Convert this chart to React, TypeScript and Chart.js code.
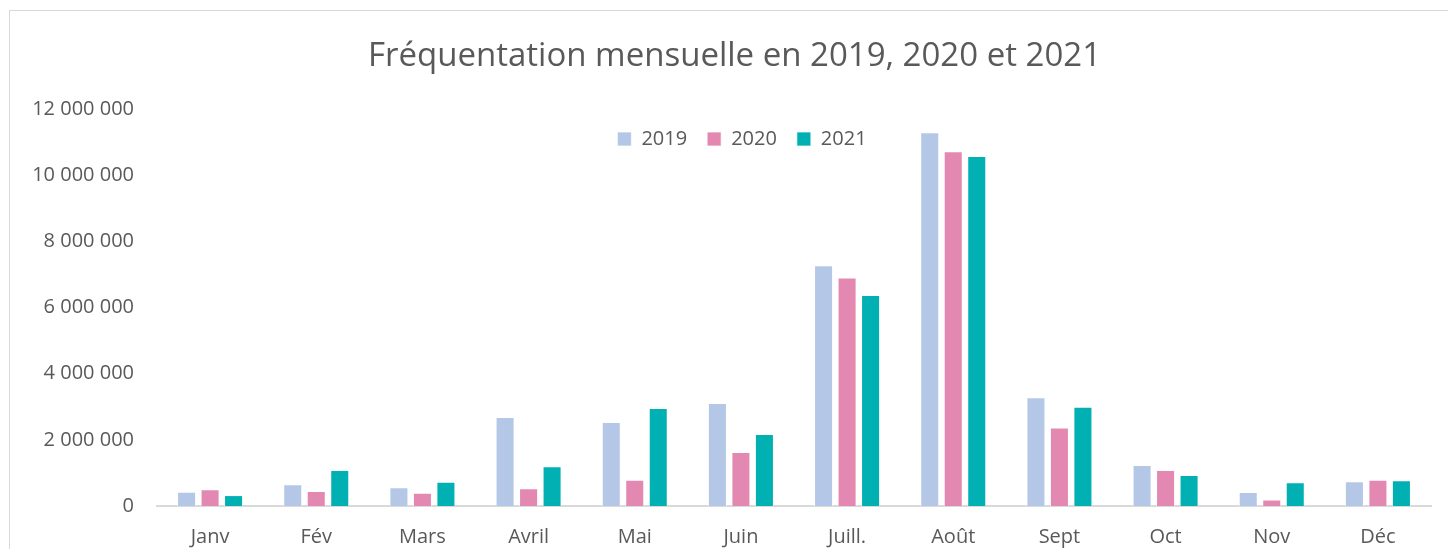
import React, { useEffect, useRef } from "react";
import { Chart, registerables } from "chart.js";

Chart.register(...registerables);

const months = ["Janv", "Fév", "Mars", "Avril", "Mai", "Juin", "Juill.", "Août", "Sept", "Oct", "Nov", "Déc"];
const series2019 = [430000, 660000, 570000, 2690000, 2540000, 3110000, 7280000, 11300000, 3290000, 1240000, 420000, 750000];
const series2020 = [510000, 450000, 400000, 540000, 790000, 1630000, 6910000, 10720000, 2370000, 1090000, 200000, 790000];
const series2021 = [330000, 1090000, 730000, 1200000, 2960000, 2180000, 6380000, 10580000, 3000000, 940000, 720000, 780000];
const seriesLabels = ["2019", "2020", "2021"];
const yTicks = [0, 2000000, 4000000, 6000000, 8000000, 10000000, 12000000];

const COLORS = ["#B4C7E7", "#E389B1", "#00B0B3"];
const TEXT = "#595959";
const FONT = "'Open Sans', 'Noto Sans', sans-serif";

function fmt(v: number): string {
  return Math.round(v).toString().replace(/\B(?=(\d{3})+(?!\d))/g, " ");
}

const placePlugin = {
  id: "placeBoxes",
  afterLayout(chart: any) {
    const t = chart.titleBlock;
    if (t) {
      const h = t.height;
      t.top = 37;
      t.bottom = t.top + h;
      t.left = 37;
      t.right = 1432;
    }
    const l = chart.legend;
    if (l) {
      const h = l.height;
      const w = l.width;
      l.top = 109;
      l.bottom = l.top + h;
      l.left = 27 + 13;
      l.right = l.left + w;
    }
  },
};

export default function App() {
  const ref = useRef<HTMLCanvasElement | null>(null);

  useEffect(() => {
    if (!ref.current) return;
    const values = [series2019, series2020, series2021];
    const chart = new Chart(ref.current, {
      type: "bar",
      data: {
        labels: months,
        datasets: seriesLabels.map((s, i) => ({
          label: s,
          data: values[i],
          backgroundColor: COLORS[i],
          borderColor: "rgba(255,255,255,0.7)",
          borderWidth: 1,
          categoryPercentage: 0.664,
          barPercentage: 0.81,
        })),
      },
      options: {
        animation: false,
        responsive: false,
        maintainAspectRatio: false,
        layout: { padding: { left: 27, right: 17, top: 0, bottom: 0 } },
        plugins: {
          title: {
            display: true,
            text: "Fréquentation mensuelle en 2019, 2020 et 2021",
            color: TEXT,
            font: { family: FONT, size: 33, weight: "normal", lineHeight: 1.2 },
            padding: { top: 0, bottom: 19.4 },
          },
          legend: {
            display: true,
            position: "top",
            labels: {
              color: TEXT,
              font: { family: FONT, size: 20 },
              boxWidth: 14,
              boxHeight: 14,
              padding: 20,
            },
          },
          tooltip: { enabled: false },
        },
        scales: {
          x: {
            afterFit: (scale: any) => {
              scale.height = 43;
            },
            grid: { display: false, drawTicks: false },
            border: { display: true, color: "#D9D9D9", width: 2 },
            ticks: { color: TEXT, font: { family: FONT, size: 20 }, padding: 19 },
          },
          y: {
            min: 0,
            max: 12000000,
            afterBuildTicks: (scale: any) => {
              scale.ticks = yTicks.map((v) => ({ value: v }));
            },
            afterFit: (scale: any) => {
              scale.width = 130;
            },
            grid: { display: false, drawTicks: false },
            border: { display: false },
            ticks: {
              color: TEXT,
              font: { family: FONT, size: 20 },
              padding: 23,
              callback: (v: any) => fmt(Number(v)),
            },
          },
        },
      },
      plugins: [placePlugin],
    });
    return () => chart.destroy();
  }, []);

  return (
    <div
      style={{
        position: "fixed",
        left: 0,
        top: 0,
        width: 1448,
        height: 549,
        overflow: "hidden",
        background: "#ffffff",
      }}
    >
      <div
        style={{
          position: "absolute",
          left: 9,
          top: 10,
          width: 1500,
          height: 600,
          border: "1.5px solid #D9D9D9",
          boxSizing: "border-box",
        }}
      />
      <canvas
        ref={ref}
        width={1448}
        height={549}
        style={{ position: "absolute", left: 0, top: 0, width: 1448, height: 549 }}
      />
    </div>
  );
}
